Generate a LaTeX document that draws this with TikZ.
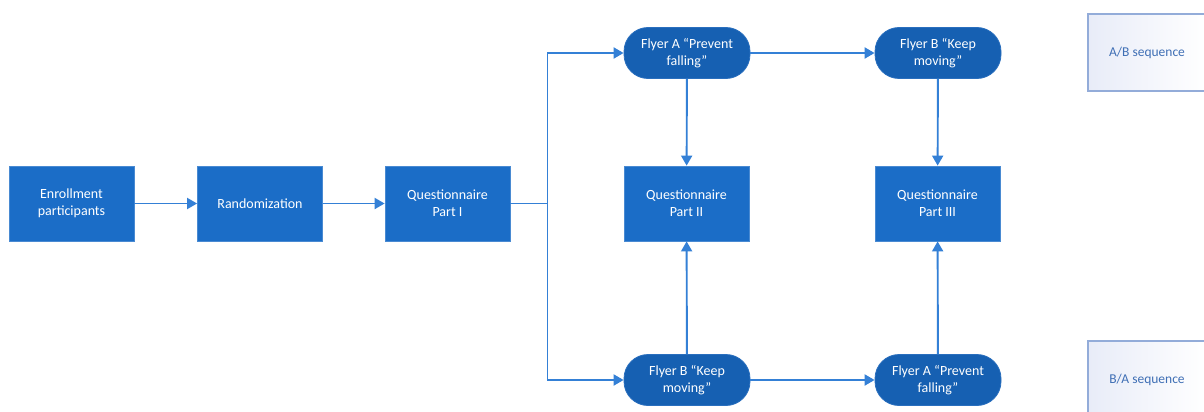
\documentclass[tikz,border=0pt]{standalone}
\usepackage{fontspec}
\setmainfont{Carlito}
\usetikzlibrary{arrows.meta}
\definecolor{boxblue}{HTML}{1B6DC7}
\definecolor{flyblue}{HTML}{1660B2}
\definecolor{flyedge}{HTML}{2A6FBE}
\definecolor{lineblue}{HTML}{3480D6}
\definecolor{seqtext}{HTML}{3F6FB5}
\definecolor{seqedge}{HTML}{93ACD9}
\definecolor{seqfill}{HTML}{E8ECF8}
\tikzset{
  x=1pt, y=1pt,
  every node/.style={font=\fontsize{14}{17.4}\selectfont, align=center},
  rectbox/.style={draw=boxblue!80!white, line width=0.8pt, fill=boxblue, text=white, minimum width=125pt, minimum height=75pt, inner sep=0pt},
  flybox/.style={draw=flyedge, line width=0.8pt, fill=flyblue, text=white, minimum width=126pt, minimum height=51pt, rounded corners=24pt, inner sep=0pt},
  seqbox/.style={draw=seqedge, line width=1.2pt, left color=seqfill, right color=white, text=seqtext, minimum width=118pt, minimum height=77pt, inner sep=0pt, font=\fontsize{13.5}{16}\selectfont},
  conn/.style={draw=lineblue, line width=1.9pt},
  arr/.style={conn, -{Triangle[length=10pt,width=11pt]}},
}
\begin{document}
\begin{tikzpicture}
\clip (0,0) rectangle (1204,-412);
\fill[white] (0,0) rectangle (1204,-412);

\node[rectbox] (enr) at (71.5,-203.5) {Enrollment\\participants};
\node[rectbox] (ran) at (260,-203.5) {Randomization};
\node[rectbox] (q1) at (447.5,-203.5) {Questionnaire\\Part I};
\node[rectbox] (q2) at (686.5,-203.5) {Questionnaire\\Part II};
\node[rectbox] (q3) at (937.5,-203.5) {Questionnaire\\Part III};

\node[flybox] (fa1) at (687,-53) {Flyer A “Prevent\\falling”};
\node[flybox] (fb1) at (938,-53) {Flyer B “Keep\\moving”};
\node[flybox] (fb2) at (687,-380) {Flyer B “Keep\\moving”};
\node[flybox] (fa2) at (938,-380) {Flyer A “Prevent\\falling”};

\node[seqbox] (ab) at (1147,-52.5) {A/B sequence};
\node[seqbox] (ba) at (1147,-379.5) {B/A sequence};

\coordinate (split) at (547.5,-203.5);

\draw[arr] (enr) -- (ran);
\draw[arr] (ran) -- (q1);
\draw[conn] (q1) -- (split);
\draw[arr] (split) |- (fa1.west);
\draw[arr] (split) |- (fb2.west);
\draw[arr] (fa1) -- (fb1);
\draw[arr] (fb2) -- (fa2);
\draw[arr] (fa1) -- (q2);
\draw[arr] (fb2) -- (q2);
\draw[arr] (fb1) -- (q3);
\draw[arr] (fa2) -- (q3);
\end{tikzpicture}
\end{document}
